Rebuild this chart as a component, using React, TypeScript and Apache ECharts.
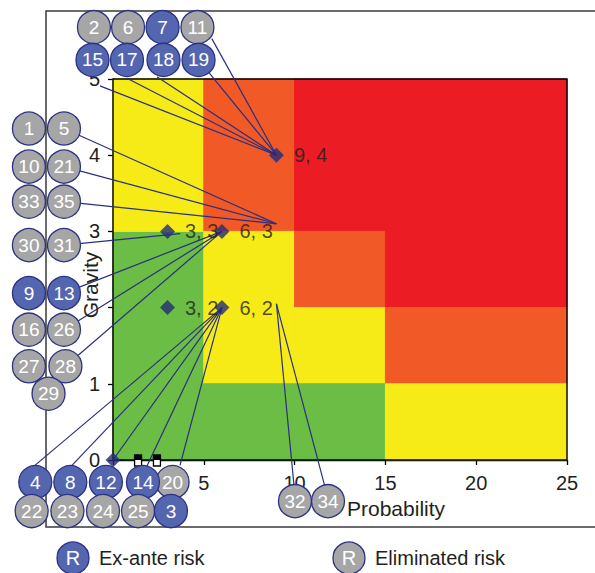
import { useEffect, useRef } from "react";
import * as echarts from "echarts";

// ---- data ----
const xTickValues = [5, 10, 15, 20, 25];
const yTickValues = [0, 1, 3, 4, 5];

// zones: [x0, x1, y0, y1, level] level 0=green 1=yellow 2=orange 3=red
const zones = [
  [0, 5, 0, 3, 0],
  [0, 5, 3, 5, 1],
  [5, 10, 3, 5, 2],
  [10, 15, 3, 5, 3],
  [5, 10, 1, 3, 1],
  [10, 15, 2, 3, 2],
  [10, 15, 1, 2, 1],
  [15, 25, 2, 5, 3],
  [15, 25, 1, 2, 2],
  [5, 15, 0, 1, 0],
  [15, 25, 0, 1, 1],
];
const zoneColors = ["#6BBD45", "#F6EB17", "#F15A26", "#EC1C24"];

// risk positions (probability, gravity)
const riskPoints = [
  [3, 3],
  [6, 3],
  [3, 2],
  [6, 2],
  [9, 4],
];
const originPoint = [[0, 0]];
const squareMarks = [
  [1.38, 0],
  [2.42, 0],
];

// numbered risk badges: [x, y, id, kind] kind: "E" ex-ante, "X" eliminated
const riskBadges = [
  [-1.05, 5.68, "2", "X"],
  [0.83, 5.68, "6", "X"],
  [2.73, 5.68, "7", "E"],
  [4.65, 5.68, "11", "X"],
  [-1.13, 5.25, "15", "E"],
  [0.77, 5.25, "17", "E"],
  [2.78, 5.25, "18", "E"],
  [4.71, 5.25, "19", "E"],
  [-4.63, 4.35, "1", "X"],
  [-2.7, 4.35, "5", "X"],
  [-4.63, 3.85, "10", "X"],
  [-2.7, 3.85, "21", "X"],
  [-4.63, 3.39, "33", "X"],
  [-2.7, 3.39, "35", "X"],
  [-4.63, 2.82, "30", "X"],
  [-2.7, 2.82, "31", "X"],
  [-4.63, 2.19, "9", "E"],
  [-2.7, 2.19, "13", "E"],
  [-4.63, 1.71, "16", "X"],
  [-2.7, 1.71, "26", "X"],
  [-4.63, 1.23, "27", "X"],
  [-2.62, 1.23, "28", "X"],
  [-3.55, 0.87, "29", "X"],
  [-4.28, -0.29, "4", "E"],
  [-2.35, -0.29, "8", "E"],
  [-0.39, -0.29, "12", "E"],
  [3.28, -0.29, "20", "X"],
  [1.65, -0.29, "14", "E"],
  [-4.48, -0.67, "22", "X"],
  [-2.51, -0.67, "23", "X"],
  [-0.55, -0.67, "24", "X"],
  [1.38, -0.67, "25", "X"],
  [3.19, -0.67, "3", "E"],
  [10.02, -0.54, "32", "X"],
  [11.84, -0.54, "34", "X"],
];

// leader lines: [x1, y1, x2, y2]
const leaderLines = [
  [-0.72, 4.91, 9, 4],
  [0.77, 5.01, 9, 4],
  [2.42, 5.03, 9, 4],
  [4.71, 5.25, 9, 4],
  [5.44, 5.53, 9, 4],
  [-2.7, 4.35, 9, 3.1],
  [-2.7, 3.85, 9, 3.1],
  [-2.7, 3.39, 9, 3.1],
  [-2.7, 2.82, 3.7, 2.97],
  [-2.7, 2.19, 6, 3],
  [-2.7, 1.71, 6, 3],
  [-2.62, 1.23, 6, 3],
  [-4.3, -0.07, 6, 2],
  [-2.26, -0.07, 6, 2],
  [0, 0, 6, 2],
  [1.87, -0.08, 6, 2],
  [3.69, -0.07, 6, 2],
  [9, 2.05, 9.97, -0.34],
  [9, 2.05, 11.67, -0.35],
];

const legendItems = [
  { label: "Ex-ante risk", kind: "E" },
  { label: "Eliminated risk", kind: "X" },
];

const FONT = "Liberation Sans, Arial, Helvetica, sans-serif";
const BLUE = "#5466AF";
const GREY = "#A6A6A6";
const NAVY = "#2B3183";
const TEXT = "#231F20";

export default function App() {
  const ref = useRef<HTMLDivElement>(null);

  useEffect(() => {
    document.body.style.margin = "0";
    if (!ref.current) return;
    const chart = echarts.init(ref.current, undefined, { renderer: "svg" });

    const option: any = {
      animation: false,
      backgroundColor: "#ffffff",
      textStyle: { fontFamily: FONT },
      grid: { left: 113, top: 79, right: 28, bottom: 113, containLabel: false },
      xAxis: {
        type: "value",
        min: 0,
        max: 25,
        interval: 5,
        name: "Probability",
        nameLocation: "middle",
        nameGap: 41,
        nameTextStyle: {
          fontSize: 21,
          color: TEXT,
          fontFamily: FONT,
          align: "left",
          verticalAlign: "middle",
          padding: [0, 0, 0, 7],
        },
        axisLine: { show: true, lineStyle: { color: "#000", width: 1.3 } },
        axisTick: { show: true, inside: false, length: 5, lineStyle: { color: "#000", width: 1.3 } },
        axisLabel: {
          margin: 13,
          fontSize: 20,
          color: TEXT,
          fontFamily: FONT,
          customValues: xTickValues,
        },
        splitLine: { show: false },
      },
      yAxis: {
        type: "value",
        min: 0,
        max: 5,
        interval: 1,
        axisLine: { show: true, lineStyle: { color: "#000", width: 1.3 } },
        axisTick: { show: true, inside: false, length: 5, lineStyle: { color: "#000", width: 1.3 } },
        axisLabel: {
          margin: 13,
          fontSize: 20,
          color: TEXT,
          fontFamily: FONT,
          customValues: yTickValues,
        },
        splitLine: { show: false },
      },
      graphic: [
        {
          type: "rect",
          z: 0,
          silent: true,
          shape: { x: 46, y: 11, width: 600, height: 516 },
          style: { fill: "none", stroke: "#3a3a3a", lineWidth: 1.5 },
        },
        {
          type: "text",
          z: 20,
          x: 90,
          y: 285,
          rotation: Math.PI / 2,
          style: {
            text: "Gravity",
            fill: TEXT,
            fontSize: 21,
            fontFamily: FONT,
            align: "center",
            verticalAlign: "middle",
          },
        },
        ...legendItems.flatMap((it, i) => {
          const cx = i === 0 ? 73 : 349;
          const cy = 558;
          return [
            {
              type: "circle",
              z: 10,
              shape: { cx, cy, r: 16 },
              style: { fill: it.kind === "E" ? BLUE : GREY, stroke: NAVY, lineWidth: 1.3 },
            },
            {
              type: "text",
              z: 11,
              x: cx,
              y: cy,
              style: {
                text: "R",
                fill: "#fff",
                fontSize: 20,
                fontFamily: FONT,
                align: "center",
                verticalAlign: "middle",
              },
            },
            {
              type: "text",
              z: 11,
              x: cx + 26,
              y: cy,
              style: {
                text: it.label,
                fill: TEXT,
                fontSize: 20,
                fontFamily: FONT,
                align: "left",
                verticalAlign: "middle",
              },
            },
          ];
        }),
      ],
      series: [
        {
          type: "custom",
          name: "zones",
          z: 1,
          silent: true,
          encode: { x: [0, 1], y: [2, 3] },
          data: zones,
          renderItem: (params: any, api: any) => {
            const a = api.coord([api.value(0), api.value(3)]);
            const b = api.coord([api.value(1), api.value(2)]);
            const c = zoneColors[api.value(4)];
            return {
              type: "rect",
              shape: { x: a[0], y: a[1], width: b[0] - a[0], height: b[1] - a[1] },
              style: { fill: c, stroke: c, lineWidth: 1 },
            };
          },
        },
        {
          type: "custom",
          name: "frame",
          z: 2,
          silent: true,
          encode: { x: [0, 1], y: [2, 3] },
          data: [[0, 25, 0, 5]],
          renderItem: (params: any, api: any) => {
            const a = api.coord([api.value(0), api.value(3)]);
            const b = api.coord([api.value(1), api.value(2)]);
            return {
              type: "rect",
              shape: { x: a[0], y: a[1], width: b[0] - a[0], height: b[1] - a[1] },
              style: { fill: "none", stroke: "#000", lineWidth: 1.4 },
            };
          },
        },
        {
          type: "custom",
          name: "squares",
          z: 3,
          silent: true,
          data: squareMarks,
          renderItem: (params: any, api: any) => {
            const c = api.coord([api.value(0), api.value(1)]);
            return {
              type: "group",
              children: [
                {
                  type: "rect",
                  shape: { x: c[0] - 3.5, y: c[1] - 5, width: 7, height: 11 },
                  style: { fill: "#fff", stroke: "#000", lineWidth: 1.3 },
                },
                {
                  type: "rect",
                  shape: { x: c[0] - 3.5, y: c[1] - 5, width: 7, height: 5 },
                  style: { fill: "#000" },
                },
              ],
            };
          },
        },
        {
          type: "custom",
          name: "leaders",
          z: 4,
          silent: true,
          encode: { x: [0, 2], y: [1, 3] },
          data: leaderLines,
          renderItem: (params: any, api: any) => {
            const p1 = api.coord([api.value(0), api.value(1)]);
            const p2 = api.coord([api.value(2), api.value(3)]);
            return {
              type: "line",
              shape: { x1: p1[0], y1: p1[1], x2: p2[0], y2: p2[1] },
              style: { stroke: "#2A2F80", lineWidth: 1.2 },
            };
          },
        },
        {
          type: "scatter",
          name: "Risk positions",
          z: 5,
          clip: false,
          symbol: "diamond",
          symbolSize: 15,
          itemStyle: { color: "#262A78" },
          label: {
            show: true,
            position: "right",
            distance: 10,
            fontSize: 20,
            color: TEXT,
            fontFamily: FONT,
            formatter: (p: any) => `${p.value[0]}, ${p.value[1]}`,
          },
          data: riskPoints,
        },
        {
          type: "scatter",
          name: "Origin",
          z: 5,
          clip: false,
          symbol: "diamond",
          symbolSize: 15,
          itemStyle: { color: "#262A78" },
          data: originPoint,
        },
        {
          type: "scatter",
          name: "Risks",
          z: 6,
          clip: false,
          symbol: "circle",
          symbolSize: 33,
          itemStyle: {
            color: (p: any) => (p.data[3] === "E" ? BLUE : GREY),
            borderColor: NAVY,
            borderWidth: 1.3,
            opacity: 1,
          },
          label: {
            show: true,
            position: "inside",
            fontSize: 19,
            color: "#ffffff",
            fontFamily: FONT,
            formatter: (p: any) => p.data[2],
          },
          data: riskBadges,
        },
      ],
    };

    chart.setOption(option);
    return () => chart.dispose();
  }, []);

  return <div ref={ref} style={{ width: 595, height: 573 }} />;
}
